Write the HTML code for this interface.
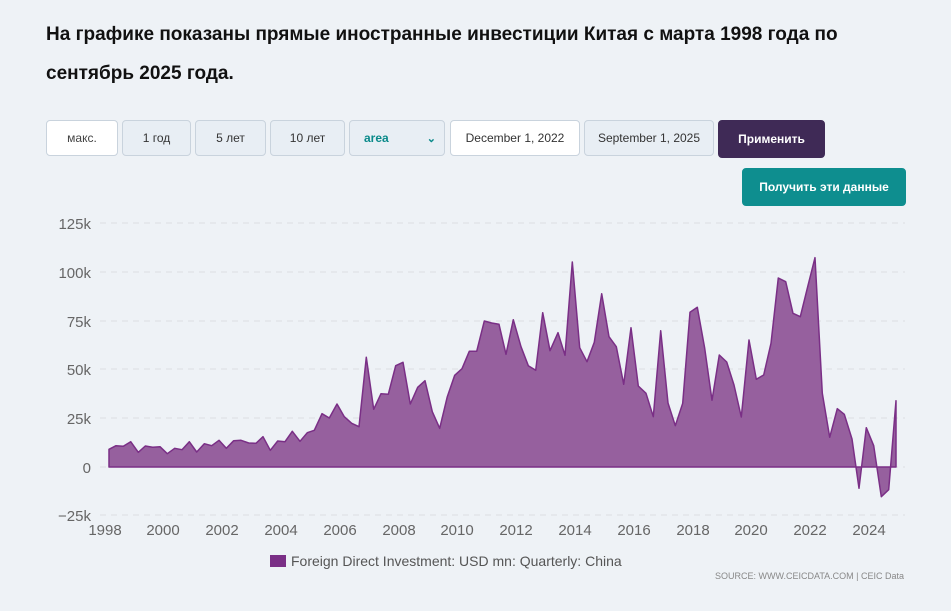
<!DOCTYPE html>
<html><head><meta charset="utf-8"><style>
body{margin:0;width:951px;height:611px;background:#eef2f6;font-family:"Liberation Sans",sans-serif;position:relative;overflow:hidden}
h1{position:absolute;left:46px;top:15px;margin:0;font-size:19px;font-weight:bold;line-height:39px;color:#111;width:870px}
.b{position:absolute;top:120px;height:36px;box-sizing:border-box;border:1px solid #c9d3dd;border-radius:4px;background:#e8eef4;font-size:12px;color:#333;display:flex;align-items:center;justify-content:center}
</style></head><body>
<h1>На графике показаны прямые иностранные инвестиции Китая с марта 1998 года по сентябрь 2025 года.</h1>
<div class="b" style="left:46px;width:72px;background:#fff;color:#444">макс.</div>
<div class="b" style="left:122px;width:69px">1 год</div>
<div class="b" style="left:195px;width:71px">5 лет</div>
<div class="b" style="left:270px;width:75px">10 лет</div>
<div class="b" style="left:349px;width:96px;justify-content:space-between;padding:0 8px 0 14px;color:#0a8a8a;font-weight:bold">area<span style="font-size:11px">&#8964;</span></div>
<div class="b" style="left:450px;width:130px;background:#fff">December 1, 2022</div>
<div class="b" style="left:584px;width:130px">September 1, 2025</div>
<div class="b" style="left:718px;width:107px;top:120px;height:38px;background:#3f2a56;border-color:#3f2a56;color:#fff;font-weight:bold">Применить</div>
<div class="b" style="left:742px;top:168px;width:164px;height:38px;background:#0e8e8f;border-color:#0e8e8f;color:#fff;font-weight:bold">Получить эти данные</div>
<svg style="position:absolute;left:0;top:0" width="951" height="611">
<g stroke="#dcdfe3" stroke-dasharray="6,5" stroke-width="1">
<line x1="100" x2="905" y1="223" y2="223"/><line x1="100" x2="905" y1="272" y2="272"/><line x1="100" x2="905" y1="321" y2="321"/><line x1="100" x2="905" y1="369" y2="369"/><line x1="100" x2="905" y1="418" y2="418"/><line x1="100" x2="905" y1="467" y2="467"/><line x1="100" x2="905" y1="515" y2="515"/></g>
<g font-size="15" fill="#666" text-anchor="end">
<text x="91" y="229">125k</text><text x="91" y="278">100k</text><text x="91" y="327">75k</text><text x="91" y="375">50k</text><text x="91" y="424">25k</text><text x="91" y="473">0</text><text x="91" y="521">−25k</text></g>
<g font-size="15" fill="#666" text-anchor="middle">
<text x="105" y="535">1998</text><text x="163" y="535">2000</text><text x="222" y="535">2002</text><text x="281" y="535">2004</text><text x="340" y="535">2006</text><text x="399" y="535">2008</text><text x="457" y="535">2010</text><text x="516" y="535">2012</text><text x="575" y="535">2014</text><text x="634" y="535">2016</text><text x="693" y="535">2018</text><text x="751" y="535">2020</text><text x="810" y="535">2022</text><text x="869" y="535">2024</text></g>
<path fill="#96609e" stroke="#7a2f86" stroke-width="1.5" stroke-linejoin="round" d="M109,467 L109,449.3 116,445.7 123.3,446.3 130.7,441.7 138.3,452.3 145.3,446 152.7,447.3 160,446.7 167.3,453.7 174.7,448.3 182,449.7 189.3,441.7 196.7,452 204.3,443.7 211.7,445.7 219,440.3 226.3,448.3 233.7,440.7 241,440.3 248.7,443 256,443.3 263,436.7 270.3,450.3 277.7,441 285,441.7 292.3,431.3 300,441.3 307.3,432.7 314.3,430.3 322,413.7 329.3,418 337,404 344.3,416.7 351.7,423.3 359,426.7 366.3,357.3 373.7,409.3 381,393.7 388.3,394.3 395.7,365.7 403,362.3 410.3,404 417.7,387.3 425,380.7 432.3,411.7 439.7,428.3 447.3,396.7 454.7,375.3 462,368.7 469.3,351.3 476.7,351.3 484.3,321 491.7,323 499,324.3 506,354.3 513.3,319.7 521,346.7 528.3,365.7 535.7,370.3 542.7,312.7 550,350.7 558,332.7 565,355.3 572.3,262 579.7,347.7 587,361.7 594.3,342.3 601.7,293.7 609,336.7 616.3,346.7 623.7,384.3 631,327.7 638.3,386 646,393.3 653.3,416.7 660.7,330.7 668,403 675.3,425.7 682.7,403.3 690,312.3 697.3,307.3 704.7,348.3 712,400.3 719.3,355 726.7,362 734,385 741.3,417 749,340 756.3,379.3 763.7,375 771,343.3 778.3,278 785.7,281.7 793,313.3 800.3,316.7 807.7,286.7 815,257.7 822.3,393.3 829.7,437.3 837.3,408.7 844.3,414.3 852,439 859,488.3 866.3,427.7 873.7,445.7 881.3,496.7 888.7,489.7 896,400.7 896,467 Z"/>
<rect x="270" y="555" width="16" height="12" fill="#7a2f86"/>
<text x="291" y="566" font-size="14" fill="#555">Foreign Direct Investment: USD mn: Quarterly: China</text>
<text x="904" y="579" font-size="9" fill="#888" text-anchor="end">SOURCE: WWW.CEICDATA.COM | CEIC Data</text>
</svg>
</body></html>
